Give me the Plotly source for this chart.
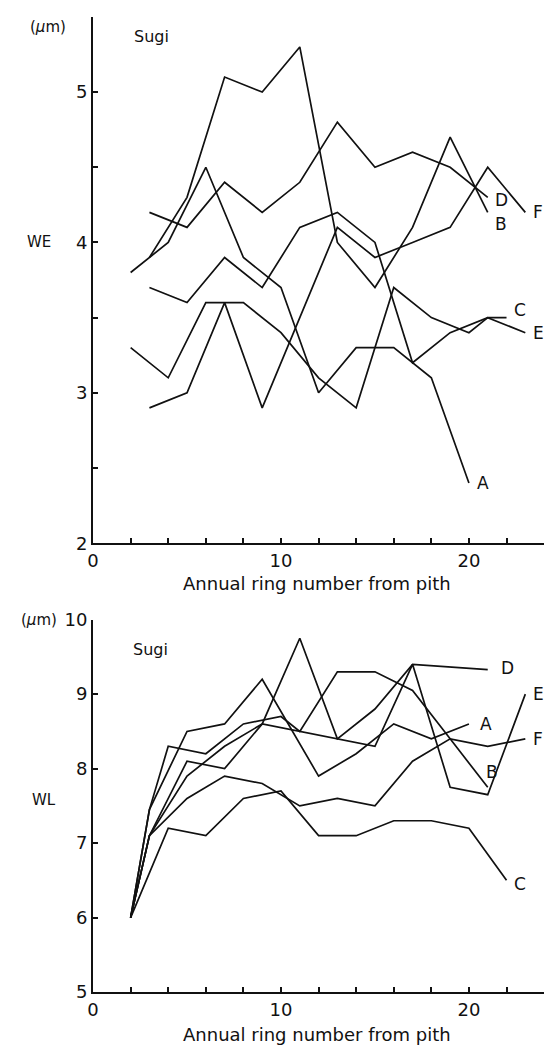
import plotly.graph_objects as go

# ---- WE (earlywood wall thickness), Sugi ----
we_A_x = [2, 3, 4, 6, 8, 10, 12, 14, 16, 18, 20]
we_A_y = [3.8, 3.9, 4.0, 4.5, 3.9, 3.7, 3.0, 3.3, 3.3, 3.1, 2.4]
we_B_x = [3, 5, 7, 9, 11, 13, 15, 17, 19, 21]
we_B_y = [3.9, 4.3, 5.1, 5.0, 5.3, 4.0, 3.7, 4.1, 4.7, 4.2]
we_C_x = [3, 5, 7, 9, 11, 13, 15, 17, 19, 21, 22]
we_C_y = [3.7, 3.6, 3.9, 3.7, 4.1, 4.2, 4.0, 3.2, 3.4, 3.5, 3.5]
we_D_x = [3, 5, 7, 9, 11, 13, 15, 17, 19, 21]
we_D_y = [4.2, 4.1, 4.4, 4.2, 4.4, 4.8, 4.5, 4.6, 4.5, 4.3]
we_E_x = [2, 4, 6, 8, 10, 12, 14, 16, 18, 20, 21, 23]
we_E_y = [3.3, 3.1, 3.6, 3.6, 3.4, 3.1, 2.9, 3.7, 3.5, 3.4, 3.5, 3.4]
we_F_x = [3, 5, 7, 9, 13, 15, 17, 19, 21, 23]
we_F_y = [2.9, 3.0, 3.6, 2.9, 4.1, 3.9, 4.0, 4.1, 4.5, 4.2]

# ---- WL (latewood wall thickness), Sugi ----
wl_A_x = [2, 3, 5, 7, 9, 12, 14, 16, 18, 20]
wl_A_y = [6.0, 7.45, 8.5, 8.6, 9.2, 7.9, 8.2, 8.6, 8.4, 8.6]
wl_B_x = [2, 3, 4, 6, 8, 10, 11, 13, 15, 17, 19, 21]
wl_B_y = [6.0, 7.45, 8.3, 8.2, 8.6, 8.7, 8.5, 9.3, 9.3, 9.05, 8.4, 7.75]
wl_C_x = [2, 4, 6, 8, 10, 12, 14, 16, 18, 20, 22]
wl_C_y = [6.0, 7.2, 7.1, 7.6, 7.7, 7.1, 7.1, 7.3, 7.3, 7.2, 6.5]
wl_D_x = [2, 3, 5, 7, 9, 11, 13, 15, 17, 21]
wl_D_y = [6.0, 7.1, 8.1, 8.0, 8.6, 9.75, 8.4, 8.8, 9.4, 9.33]
wl_E_x = [2, 3, 5, 7, 9, 11, 13, 15, 17, 19, 21, 23]
wl_E_y = [6.0, 7.1, 7.9, 8.3, 8.6, 8.5, 8.4, 8.3, 9.4, 7.75, 7.65, 9.0]
wl_F_x = [2, 3, 5, 7, 9, 11, 13, 15, 17, 19, 21, 23]
wl_F_y = [6.0, 7.1, 7.6, 7.9, 7.8, 7.5, 7.6, 7.5, 8.1, 8.4, 8.3, 8.4]

# end-of-line letters: (text, x, y)
we_labels = [("D", 21.3, 4.28), ("B", 21.3, 4.12), ("F", 23.3, 4.2),
             ("C", 22.3, 3.55), ("E", 23.3, 3.4), ("A", 20.3, 2.4)]
wl_labels = [("D", 21.6, 9.35), ("E", 23.3, 9.0), ("A", 20.5, 8.6),
             ("F", 23.3, 8.4), ("B", 20.8, 7.95), ("C", 22.3, 6.45)]

INK = "#111111"
FONT = "DejaVu Sans"

fig = go.Figure()

we = [(we_A_x, we_A_y), (we_B_x, we_B_y), (we_C_x, we_C_y),
      (we_D_x, we_D_y), (we_E_x, we_E_y), (we_F_x, we_F_y)]
wl = [(wl_A_x, wl_A_y), (wl_B_x, wl_B_y), (wl_C_x, wl_C_y),
      (wl_D_x, wl_D_y), (wl_E_x, wl_E_y), (wl_F_x, wl_F_y)]

for xs, ys in we:
    fig.add_trace(go.Scatter(x=xs, y=ys, mode="lines", xaxis="x", yaxis="y",
                             line=dict(color=INK, width=1.7), showlegend=False,
                             hoverinfo="skip"))
for xs, ys in wl:
    fig.add_trace(go.Scatter(x=xs, y=ys, mode="lines", xaxis="x2", yaxis="y2",
                             line=dict(color=INK, width=1.7), showlegend=False,
                             hoverinfo="skip"))

W, H = 554, 1056
x_dom = [88 / W, 544 / W]
top_dom = [1 - 543 / H, 1 - 6 / H]
bot_dom = [1 - 1001 / H, 1 - 621 / H]

x_ticks = list(range(0, 25, 2))
x_text = [str(v) if v % 10 == 0 else "" for v in x_ticks]

common_x = dict(range=[0, 24], tickvals=x_ticks, ticktext=x_text,
                ticks="inside", ticklen=5, tickwidth=1.5, tickcolor=INK,
                showline=True, linecolor=INK, linewidth=2, showgrid=False,
                zeroline=False, tickfont=dict(family=FONT, size=18, color=INK),
                domain=x_dom)

we_ticks = [2, 2.5, 3, 3.5, 4, 4.5, 5, 5.5]
we_text = ["2", "", "3", "", "4", "", "5", ""]
wl_ticks = [5, 6, 7, 8, 9, 10]

fig.update_layout(
    width=W, height=H,
    margin=dict(l=0, r=0, t=0, b=0),
    paper_bgcolor="white", plot_bgcolor="white",
    xaxis=dict(anchor="y", **common_x),
    yaxis=dict(range=[2, 5.5], domain=top_dom, anchor="x",
               tickvals=we_ticks, ticktext=we_text, ticks="inside",
               ticklen=5, tickwidth=1.5, tickcolor=INK, showline=True,
               linecolor=INK, linewidth=2, showgrid=False, zeroline=False,
               tickfont=dict(family=FONT, size=18, color=INK)),
    xaxis2=dict(anchor="y2", **common_x),
    yaxis2=dict(range=[5, 10], domain=bot_dom, anchor="x2",
                tickvals=wl_ticks, ticks="inside",
                ticklen=5, tickwidth=1.5, tickcolor=INK, showline=True,
                linecolor=INK, linewidth=2, showgrid=False, zeroline=False,
                tickfont=dict(family=FONT, size=18, color=INK)),
)

ann = []
for txt, x, y in we_labels:
    ann.append(dict(text=txt, x=x, y=y, xref="x", yref="y", showarrow=False,
                    xanchor="left", font=dict(family=FONT, size=17, color=INK)))
for txt, x, y in wl_labels:
    ann.append(dict(text=txt, x=x, y=y, xref="x2", yref="y2", showarrow=False,
                    xanchor="left", font=dict(family=FONT, size=17, color=INK)))

def paper_text(txt, px, py, size=16, anchor="center"):
    return dict(text=txt, x=px / W, y=1 - py / H, xref="paper", yref="paper",
                showarrow=False, xanchor=anchor, yanchor="middle",
                font=dict(family=FONT, size=size, color=INK))

ann += [
    paper_text("Sugi", 147, 26),
    paper_text("Sugi", 146, 651),
    paper_text("(<i>μ</i>m)", 42, 16, 15),
    paper_text("(<i>μ</i>m)", 33, 621, 15),
    paper_text("WE", 33, 236, 15),
    paper_text("WL", 38, 805, 15),
    paper_text("Annual ring number from pith", 314, 584, 18),
    paper_text("Annual ring number from pith", 314, 1044, 18),
]
fig.update_layout(annotations=ann)

fig.write_html("out.html")
